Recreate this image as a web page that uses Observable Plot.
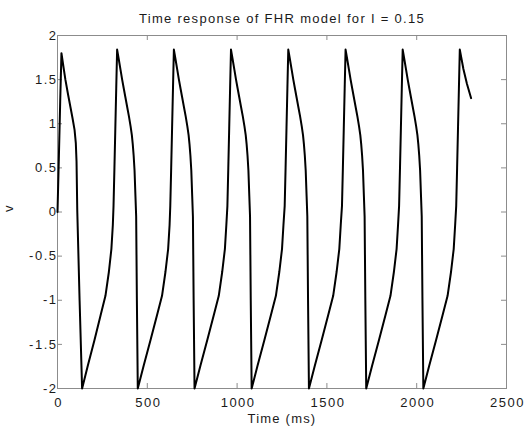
<!DOCTYPE html>
<html>
<head>
<meta charset="utf-8">
<script src="https://cdn.jsdelivr.net/npm/d3@7"></script>
<script src="https://cdn.jsdelivr.net/npm/@observablehq/plot@0.6"></script>
<style>
  html, body { margin: 0; padding: 0; background: #ffffff; }
  #chart { width: 524px; height: 428px; }
</style>
</head>
<body>
<div id="chart"></div>
<script>
const chartTitle = "Time response of FHR model for I = 0.15";
const xLabel = "Time (ms)";
const yLabel = "v";
const xTicks = [0, 500, 1000, 1500, 2000, 2500];
const xTickLabels = ["0", "500", "1000", "1500", "2000", "2500"];
const yTicks = [-2, -1.5, -1, -0.5, 0, 0.5, 1, 1.5, 2];
const yTickLabels = ["-2", "-1.5", "-1", "-0.5", "0", "0.5", "1", "1.5", "2"];

const timeMs = [
  0, 8, 15, 22, 32, 44, 58, 72, 84, 95, 102, 106, 110, 123, 137,
  169, 206, 240, 267, 286, 300, 308, 312, 317, 322, 327, 332,
  342, 351, 360, 369, 378, 388, 398, 407, 414, 419, 424, 429, 434, 438, 442, 447,
  480, 518, 554, 582, 601, 616, 624, 628, 633, 638, 643, 648,
  658, 667, 676, 685, 694, 704, 714, 723, 730, 735, 740, 745, 750, 754, 758, 763,
  796, 834, 870, 898, 917, 932, 940, 946, 951, 956, 961, 966,
  976, 985, 994, 1003, 1012, 1022, 1032, 1041, 1048, 1053, 1058, 1063, 1068, 1072, 1076, 1081,
  1114, 1152, 1188, 1216, 1235, 1250, 1258, 1265, 1270, 1275, 1280, 1285,
  1295, 1304, 1313, 1322, 1331, 1341, 1351, 1360, 1367, 1372, 1377, 1382, 1387, 1391, 1395, 1400,
  1433, 1471, 1507, 1535, 1554, 1569, 1577, 1584, 1589, 1594, 1599, 1604,
  1614, 1623, 1632, 1641, 1650, 1660, 1670, 1679, 1686, 1691, 1696, 1701, 1706, 1710, 1714, 1719,
  1752, 1790, 1826, 1854, 1873, 1888, 1896, 1902, 1907, 1912, 1917, 1922,
  1932, 1941, 1950, 1959, 1968, 1978, 1988, 1997, 2004, 2009, 2014, 2019, 2024, 2028, 2032, 2037,
  2070, 2108, 2144, 2172, 2191, 2206, 2214, 2220, 2225, 2230, 2235, 2240,
  2260, 2280, 2303
];

const voltage = [
  0.00, 0.65, 1.25, 1.80, 1.66, 1.50, 1.34, 1.19, 1.06, 0.93, 0.78, 0.57, 0.02, -1.00, -2.00,
  -1.74, -1.45, -1.17, -0.95, -0.68, -0.42, -0.15, 0.07, 0.50, 0.95, 1.40, 1.84,
  1.72, 1.61, 1.50, 1.40, 1.30, 1.19, 1.08, 0.97, 0.87, 0.77, 0.64, 0.47, 0.18, -0.05, -1.00, -2.00,
  -1.74, -1.45, -1.17, -0.95, -0.68, -0.42, -0.15, 0.07, 0.50, 0.95, 1.40, 1.84,
  1.72, 1.61, 1.50, 1.40, 1.30, 1.19, 1.08, 0.97, 0.87, 0.77, 0.64, 0.47, 0.18, -0.05, -1.00, -2.00,
  -1.74, -1.45, -1.17, -0.95, -0.68, -0.42, -0.15, 0.07, 0.50, 0.95, 1.40, 1.84,
  1.72, 1.61, 1.50, 1.40, 1.30, 1.19, 1.08, 0.97, 0.87, 0.77, 0.64, 0.47, 0.18, -0.05, -1.00, -2.00,
  -1.74, -1.45, -1.17, -0.95, -0.68, -0.42, -0.15, 0.07, 0.50, 0.95, 1.40, 1.84,
  1.72, 1.61, 1.50, 1.40, 1.30, 1.19, 1.08, 0.97, 0.87, 0.77, 0.64, 0.47, 0.18, -0.05, -1.00, -2.00,
  -1.74, -1.45, -1.17, -0.95, -0.68, -0.42, -0.15, 0.07, 0.50, 0.95, 1.40, 1.84,
  1.72, 1.61, 1.50, 1.40, 1.30, 1.19, 1.08, 0.97, 0.87, 0.77, 0.64, 0.47, 0.18, -0.05, -1.00, -2.00,
  -1.74, -1.45, -1.17, -0.95, -0.68, -0.42, -0.15, 0.07, 0.50, 0.95, 1.40, 1.84,
  1.72, 1.61, 1.50, 1.40, 1.30, 1.19, 1.08, 0.97, 0.87, 0.77, 0.64, 0.47, 0.18, -0.05, -1.00, -2.00,
  -1.74, -1.45, -1.17, -0.95, -0.68, -0.42, -0.15, 0.07, 0.50, 0.95, 1.40, 1.84,
  1.62, 1.45, 1.29
];

const W = 524, H = 428;
const mL = 57, mR = 18, mT = 35, mB = 40;
const tickLen = 5;
const frameW = W - mL - mR, frameH = H - mT - mB;
const axisColor = "#8c8c8c";
const textColor = "#1a1a1a";

const chart = Plot.plot({
  width: W,
  height: H,
  marginLeft: mL,
  marginRight: mR,
  marginTop: mT,
  marginBottom: mB,
  style: {
    fontFamily: "'Liberation Sans', Arial, Helvetica, sans-serif",
    fontSize: "13px",
    color: textColor,
    background: "#ffffff",
    overflow: "visible"
  },
  x: { domain: [0, 2500] },
  y: { domain: [-2, 2] },
  marks: [
    Plot.frame({ stroke: axisColor, strokeWidth: 1 }),
    Plot.ruleX(xTicks, { stroke: axisColor, insetTop: frameH - tickLen }),
    Plot.ruleX(xTicks, { stroke: axisColor, insetBottom: frameH - tickLen }),
    Plot.ruleY(yTicks, { stroke: axisColor, insetLeft: frameW - tickLen }),
    Plot.ruleY(yTicks, { stroke: axisColor, insetRight: frameW - tickLen }),
    Plot.axisX(xTicks, {
      anchor: "bottom", tickSize: 0, tickPadding: 9, label: null,
      tickFormat: (d, i) => xTickLabels[i], fontSize: 13, dx: 1
    }),
    Plot.axisY(yTicks, {
      anchor: "left", tickSize: 0, tickPadding: 0, label: null,
      tickFormat: (d, i) => yTickLabels[i], fontSize: 13
    }),
    Plot.line(timeMs, {
      x: timeMs, y: voltage, stroke: "#000000", strokeWidth: 2,
      strokeLinejoin: "round", strokeLinecap: "round", curve: "linear"
    }),
    Plot.text([chartTitle], {
      text: d => d, frameAnchor: "top", lineAnchor: "top", dy: -22,
      fontSize: 13, fill: textColor
    }),
    Plot.text([xLabel], {
      text: d => d, frameAnchor: "bottom", lineAnchor: "top", dy: 25,
      fontSize: 13, fill: textColor
    }),
    Plot.text([yLabel], {
      text: d => d, frameAnchor: "left", rotate: -90, dx: -49,
      fontSize: 13, fill: textColor
    })
  ]
});

// MATLAB-style wide letter spacing of the texts
const svgSel = d3.select(chart);
svgSel.selectAll("text").each(function () {
  const t = this.textContent;
  const s = d3.select(this);
  if (t === chartTitle) s.style("letter-spacing", "1.3px");
  else if (t === xLabel) s.style("letter-spacing", "1.2px");
  else if (xTickLabels.includes(t) || yTickLabels.includes(t)) s.style("letter-spacing", "1.5px");
});

document.getElementById("chart").appendChild(chart);
</script>
</body>
</html>
